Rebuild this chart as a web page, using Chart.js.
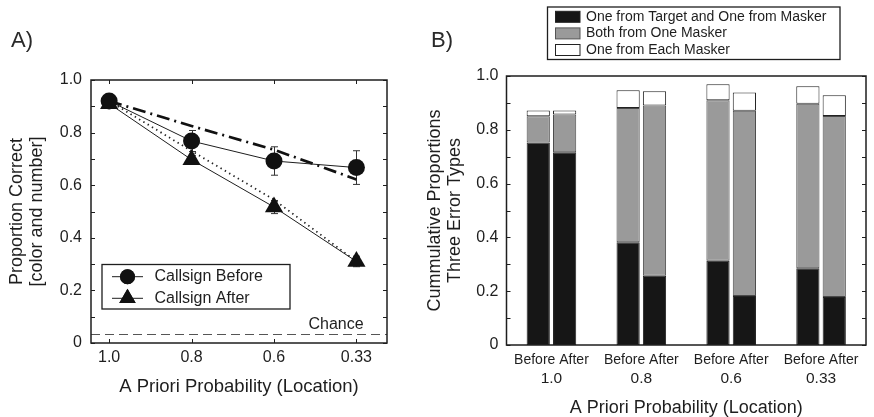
<!DOCTYPE html>
<html>
<head>
<meta charset="utf-8">
<script src="https://cdn.jsdelivr.net/npm/chart.js@4.4.1/dist/chart.umd.min.js"></script>
<style>
  html, body { margin: 0; padding: 0; background: #fff; }
  #wrap { position: relative; width: 874px; height: 417px; overflow: hidden; }
  #cA { position: absolute; left: 0; top: 0; }
  #cB { position: absolute; left: 400px; top: 0; }
</style>
</head>
<body>
<div id="wrap">
  <canvas id="cA" width="400" height="417"></canvas>
  <canvas id="cB" width="474" height="417"></canvas>
</div>
<script>
// ---- Panel A: proportion correct by a priori probability ----
const probLabels = ['1.0', '0.8', '0.6', '0.33'];
const callsignBefore = [0.92, 0.768, 0.692, 0.667];
const callsignBeforeErr = [0, 0.04, 0.054, 0.064];
const callsignAfter = [0.91, 0.697, 0.517, 0.31];
const callsignAfterErr = [0, 0.015, 0.025, 0.02];
const predictedBefore = [0.92, 0.825, 0.735, 0.622];
const predictedAfter = [0.92, 0.73, 0.545, 0.31];
const chanceLevel = 0.033;

// ---- Panel B: error types (proportion of responses) ----
const targetMaskerBefore = [0.753, 0.382, 0.313, 0.285];
const oneMaskerBefore    = [0.097, 0.499, 0.597, 0.612];
const eachMaskerBefore   = [0.022, 0.066, 0.059, 0.065];
const targetMaskerAfter  = [0.717, 0.257, 0.182, 0.178];
const oneMaskerAfter     = [0.140, 0.633, 0.689, 0.673];
const eachMaskerAfter    = [0.015, 0.053, 0.068, 0.077];
const errorTypeNames = ['One from Target and One from Masker', 'Both from One Masker', 'One from Each Masker'];
const conditionLabel = 'Before After';

const FONT = "'Liberation Sans', Arial, Helvetica, sans-serif";
const INK = '#1e1e1e';
Chart.defaults.font.family = FONT;
Chart.defaults.color = INK;

const tenthTicks = s => { s.ticks = Array.from({ length: 11 }, (_, i) => ({ value: i / 10 })); };
const tenthLabel = v => {
  const k = Math.round(v * 10);
  if (k % 2) return '';
  return k === 0 ? '0' : (k / 10).toFixed(1);
};

// frame box with inward ticks on all four sides
function drawFrame(chart, xTickValues) {
  const { ctx, chartArea: a, scales } = chart;
  ctx.save();
  ctx.strokeStyle = INK;
  ctx.lineWidth = 1;
  ctx.beginPath();
  for (let i = 0; i <= 10; i++) {
    const y = Math.round(scales.y.getPixelForValue(i / 10)) + 0.5;
    ctx.moveTo(a.left, y); ctx.lineTo(a.left + 4, y);
    ctx.moveTo(a.right, y); ctx.lineTo(a.right - 4, y);
  }
  (xTickValues || []).forEach(v => {
    const x = Math.round(scales.x.getPixelForValue(v)) + 0.5;
    ctx.moveTo(x, a.top); ctx.lineTo(x, a.top + 4);
    ctx.moveTo(x, a.bottom); ctx.lineTo(x, a.bottom - 4);
  });
  ctx.stroke();
  ctx.lineWidth = 1.5;
  ctx.strokeRect(a.left, a.top, a.right - a.left, a.bottom - a.top);
  ctx.restore();
}

function panelLabel(ctx, text, x, y) {
  ctx.save();
  ctx.fillStyle = '#2a2a2a';
  ctx.font = `22px ${FONT}`;
  ctx.textBaseline = 'middle';
  ctx.textAlign = 'left';
  ctx.fillText(text, x, y);
  ctx.restore();
}

const panelAExtras = {
  id: 'panelAExtras',
  beforeDatasetsDraw(chart) {
    const { ctx, chartArea: a, scales: { x, y } } = chart;
    ctx.save();
    // chance level
    ctx.strokeStyle = '#555';
    ctx.lineWidth = 1;
    ctx.setLineDash([9, 5]);
    const cy = Math.round(y.getPixelForValue(chanceLevel)) + 0.5;
    ctx.beginPath(); ctx.moveTo(a.left, cy); ctx.lineTo(a.right, cy); ctx.stroke();
    ctx.setLineDash([]);
    // error bars
    ctx.strokeStyle = '#333';
    const bars = (vals, errs) => vals.forEach((v, i) => {
      if (!errs[i]) return;
      const px = Math.round(x.getPixelForValue(i)) + 0.5;
      const top = y.getPixelForValue(v + errs[i]);
      const bot = y.getPixelForValue(v - errs[i]);
      ctx.beginPath();
      ctx.moveTo(px, top); ctx.lineTo(px, bot);
      ctx.moveTo(px - 3.5, top); ctx.lineTo(px + 3.5, top);
      ctx.moveTo(px - 3.5, bot); ctx.lineTo(px + 3.5, bot);
      ctx.stroke();
    });
    bars(callsignBefore, callsignBeforeErr);
    bars(callsignAfter, callsignAfterErr);
    ctx.restore();
  },
  afterDraw(chart) {
    const { ctx, scales: { y } } = chart;
    drawFrame(chart, probLabels.map((_, i) => i));
    ctx.save();
    ctx.fillStyle = INK;
    ctx.font = `16px ${FONT}`;
    ctx.textBaseline = 'middle';
    ctx.textAlign = 'center';
    ctx.fillText('Chance', 336, y.getPixelForValue(chanceLevel) - 10);

    // legend
    const lx = 102, ly = 264.5, lw = 188, lh = 44.5;
    ctx.fillStyle = '#fff';
    ctx.fillRect(lx, ly, lw, lh);
    ctx.strokeStyle = INK;
    ctx.lineWidth = 1.3;
    ctx.strokeRect(lx, ly, lw, lh);
    const rows = [
      { name: 'Callsign Before', style: 'circle', r: 7.5, yy: 276.7 },
      { name: 'Callsign After', style: 'triangle', r: 9.5, yy: 298.3 }
    ];
    rows.forEach(rw => {
      ctx.strokeStyle = INK;
      ctx.lineWidth = 1;
      ctx.beginPath(); ctx.moveTo(112, rw.yy); ctx.lineTo(143, rw.yy); ctx.stroke();
      ctx.fillStyle = '#111';
      Chart.helpers.drawPoint(ctx, { pointStyle: rw.style, radius: rw.r, borderWidth: 0 }, 127.5, rw.yy);
      ctx.fill();
      ctx.fillStyle = INK;
      ctx.textAlign = 'left';
      ctx.fillText(rw.name, 154.5, rw.yy);
    });
    ctx.restore();
    panelLabel(ctx, 'A)', 11, 41);
  }
};

const xy = vals => vals.map((v, i) => ({ x: i, y: v }));

new Chart(document.getElementById('cA'), {
  type: 'line',
  data: {
    datasets: [
      { label: 'Callsign Before', data: xy(callsignBefore), borderColor: INK, borderWidth: 1,
        pointStyle: 'circle', pointRadius: 8.5, pointBackgroundColor: '#111', pointBorderWidth: 0, tension: 0 },
      { label: 'Callsign After', data: xy(callsignAfter), borderColor: INK, borderWidth: 1,
        pointStyle: 'triangle', pointRadius: 10.5, pointBackgroundColor: '#111', pointBorderWidth: 0, tension: 0 },
      { label: 'Predicted Before', data: xy(predictedBefore), borderColor: '#111', borderWidth: 2.7,
        borderDash: [13, 5, 2, 5], pointRadius: 0, tension: 0 },
      { label: 'Predicted After', data: xy(predictedAfter), borderColor: '#222', borderWidth: 1.8,
        borderDash: [1.4, 3.6], pointRadius: 0, tension: 0 }
    ]
  },
  options: {
    responsive: false,
    animation: false,
    events: [],
    layout: { padding: { left: 0, top: 80, right: 13, bottom: 0 } },
    plugins: { legend: { display: false }, tooltip: { enabled: false } },
    scales: {
      x: {
        type: 'linear', min: -0.22, max: 3.371,
        afterBuildTicks: s => { s.ticks = probLabels.map((_, i) => ({ value: i })); },
        afterFit: s => { s.height = 74; },
        grid: { display: false, drawTicks: false },
        border: { display: false },
        ticks: { padding: 5.4, autoSkip: false, maxRotation: 0, font: { size: 16, lineHeight: 1.2 },
                 callback: v => probLabels[v] ?? '' },
        title: { display: true, text: 'A Priori Probability (Location)', font: { size: 18.5, lineHeight: 1 },
                 padding: { top: 0, bottom: 21 } }
      },
      y: {
        min: 0, max: 1,
        afterBuildTicks: tenthTicks,
        afterFit: s => { s.width = 91; },
        grid: { display: false, drawTicks: false },
        border: { display: false },
        ticks: { padding: 9, autoSkip: false, font: { size: 16 }, callback: tenthLabel },
        title: { display: true, text: ['Proportion Correct', '[color and number]'],
                 font: { size: 18, lineHeight: 1.15 }, padding: { top: 6.3, bottom: 0 } }
      }
    }
  },
  plugins: [panelAExtras]
});

// ---- Panel B ----
const BLACK = '#161616', GRAY = '#9a9a9a', WHITE = '#ffffff';
const segColors = [BLACK, GRAY, WHITE];

const panelBExtras = {
  id: 'panelBExtras',
  afterDraw(chart) {
    const { ctx } = chart;
    drawFrame(chart, []);
    ctx.save();
    const lx = 147.5, ly = 7, lw = 292.5, lh = 52.5;
    ctx.fillStyle = '#fff';
    ctx.fillRect(lx, ly, lw, lh);
    ctx.strokeStyle = INK;
    ctx.lineWidth = 1.3;
    ctx.strokeRect(lx, ly, lw, lh);
    ctx.font = `14px ${FONT}`;
    ctx.textBaseline = 'middle';
    ctx.textAlign = 'left';
    errorTypeNames.forEach((name, i) => {
      const yy = 16.8 + i * 16.6;
      ctx.fillStyle = segColors[i];
      ctx.fillRect(155.5, yy - 5.5, 24.5, 11);
      ctx.strokeStyle = i === 1 ? '#555' : '#222';
      ctx.lineWidth = 1;
      ctx.strokeRect(155.5, yy - 5.5, 24.5, 11);
      ctx.fillStyle = INK;
      ctx.fillText(name, 186, yy);
    });
    ctx.restore();
    panelLabel(ctx, 'B)', 31, 41);
  }
};

const seg = (label, data, stack, i) => ({
  label, data, stack,
  backgroundColor: segColors[i],
  borderColor: i === 1 ? '#4a4a4a' : '#222',
  borderWidth: 1,
  borderSkipped: false,
  categoryPercentage: 0.587,
  barPercentage: 0.88
});

new Chart(document.getElementById('cB'), {
  type: 'bar',
  data: {
    labels: probLabels.map(() => conditionLabel),
    datasets: [
      seg(errorTypeNames[0] + ' (Before)', targetMaskerBefore, 'before', 0),
      seg(errorTypeNames[1] + ' (Before)', oneMaskerBefore, 'before', 1),
      seg(errorTypeNames[2] + ' (Before)', eachMaskerBefore, 'before', 2),
      seg(errorTypeNames[0] + ' (After)', targetMaskerAfter, 'after', 0),
      seg(errorTypeNames[1] + ' (After)', oneMaskerAfter, 'after', 1),
      seg(errorTypeNames[2] + ' (After)', eachMaskerAfter, 'after', 2)
    ]
  },
  options: {
    responsive: false,
    animation: false,
    events: [],
    layout: { padding: { left: 0, top: 76, right: 8, bottom: 0 } },
    plugins: { legend: { display: false }, tooltip: { enabled: false } },
    scales: {
      x: {
        stacked: true,
        weight: 0,
        afterFit: s => { s.height = 24; },
        grid: { display: false, drawTicks: false },
        border: { display: false },
        ticks: { padding: 6.5, autoSkip: false, maxRotation: 0, font: { size: 14, lineHeight: 1.2 } }
      },
      xProb: {
        type: 'category',
        axis: 'x',
        position: 'bottom',
        labels: probLabels,
        offset: true,
        weight: 1,
        afterFit: s => { s.height = 48; },
        grid: { display: false, drawTicks: false },
        border: { display: false },
        ticks: { padding: 0.6, autoSkip: false, maxRotation: 0, font: { size: 15.5, lineHeight: 1.2 } },
        title: { display: true, text: 'A Priori Probability (Location)', font: { size: 18, lineHeight: 1 },
                 padding: { top: 0, bottom: 0 } }
      },
      y: {
        stacked: true,
        min: 0, max: 1,
        afterBuildTicks: tenthTicks,
        afterFit: s => { s.width = 106.5; },
        grid: { display: false, drawTicks: false },
        border: { display: false },
        ticks: { padding: 8, autoSkip: false, font: { size: 16 }, callback: tenthLabel },
        title: { display: true, text: ['Cummulative Proportions', 'Three Error Types'],
                 font: { size: 18, lineHeight: 1.1 }, padding: { top: 25, bottom: 0 } }
      }
    }
  },
  plugins: [panelBExtras]
});
</script>
</body>
</html>
